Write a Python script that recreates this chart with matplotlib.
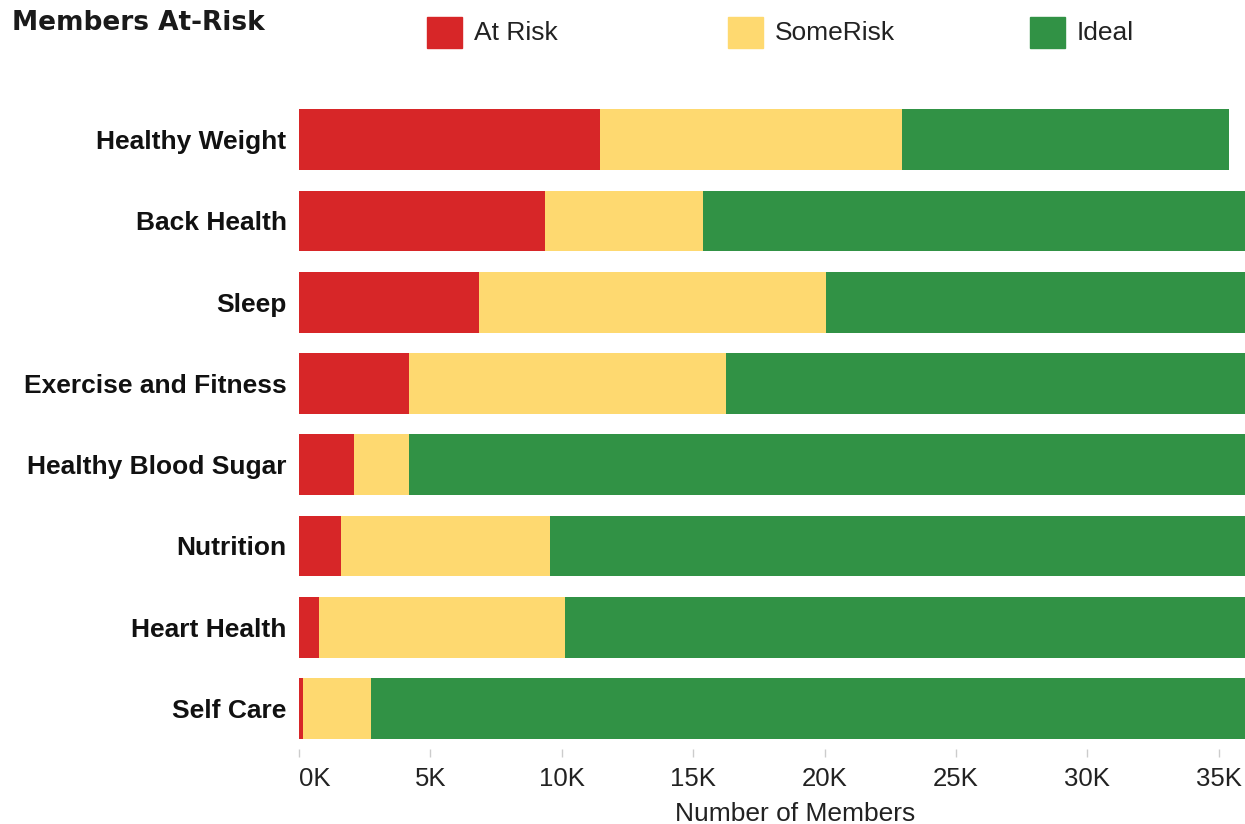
import numpy as np
import matplotlib.pyplot as plt
from matplotlib.patches import Rectangle
from matplotlib.ticker import FuncFormatter

# data (members)
categories = ['Healthy Weight', 'Back Health', 'Sleep', 'Exercise and Fitness',
              'Healthy Blood Sugar', 'Nutrition', 'Heart Health', 'Self Care']
at_risk = [11450, 9360, 6860, 4190, 2080, 1610, 750, 160]
some_risk = [11500, 6010, 13200, 12060, 2110, 7940, 9370, 2580]
ideal = [12440, 22500, 17800, 21600, 33700, 28300, 27700, 35100]
series_names = ['At Risk', 'SomeRisk', 'Ideal']
colors = ['#d72628', '#fed970', '#319245']

plt.rcParams['font.family'] = ['Liberation Sans', 'DejaVu Sans']

W, H = 1245, 824
fig = plt.figure(figsize=(W / 100, H / 100), dpi=100)

# axes runs a bit past the right edge like the original screenshot
x0, x1 = 299, 1291
y_top, y_bot = 99.1, 749.1
ax = fig.add_axes([x0 / W, 1 - y_bot / H, (x1 - x0) / W, (y_bot - y_top) / H])

y = np.arange(len(categories))
left = np.zeros(len(categories))
for vals, name, c in zip([at_risk, some_risk, ideal], series_names, colors):
    ax.barh(y, vals, left=left, height=0.747, color=c, label=name)
    left += np.array(vals)

ax.set_ylim(len(categories) - 0.5, -0.5)
ax.set_xlim(0, (x1 - x0) / 26.28 * 1000)
ax.set_yticks(y)
ax.set_yticklabels(categories, fontsize=19, fontweight='bold', color='#111111')
ax.tick_params(axis='y', length=0, pad=9)

ax.set_xticks(np.arange(0, 36000, 5000))
ax.xaxis.set_major_formatter(FuncFormatter(lambda v, p: '%dK' % (v / 1000)))
ax.tick_params(axis='x', length=6, width=1, color='#cccccc', pad=7,
               labelsize=18.5, labelcolor='#222222')
ax.get_xticklabels()[0].set_horizontalalignment('left')
ax.set_xlabel('Number of Members', fontsize=19, color='#222222', labelpad=8)

for s in ax.spines.values():
    s.set_visible(False)

# title
fig.text(12 / W, 1 - 23 / H, 'Members At-Risk', fontsize=19, fontweight='bold',
         family='DejaVu Sans', color='#1a1a1a', va='center', ha='left')

# legend drawn by hand to match spacing
leg_x = [427, 728, 1030]
for lx, name, c in zip(leg_x, series_names, colors):
    fig.patches.append(Rectangle((lx / W, 1 - 48 / H), 35 / W, 31 / H,
                                 transform=fig.transFigure, color=c))
    fig.text((lx + 47) / W, 1 - 33 / H, name, fontsize=19, color='#222222',
             va='center', ha='left')

fig.savefig('out.png', dpi=100)
